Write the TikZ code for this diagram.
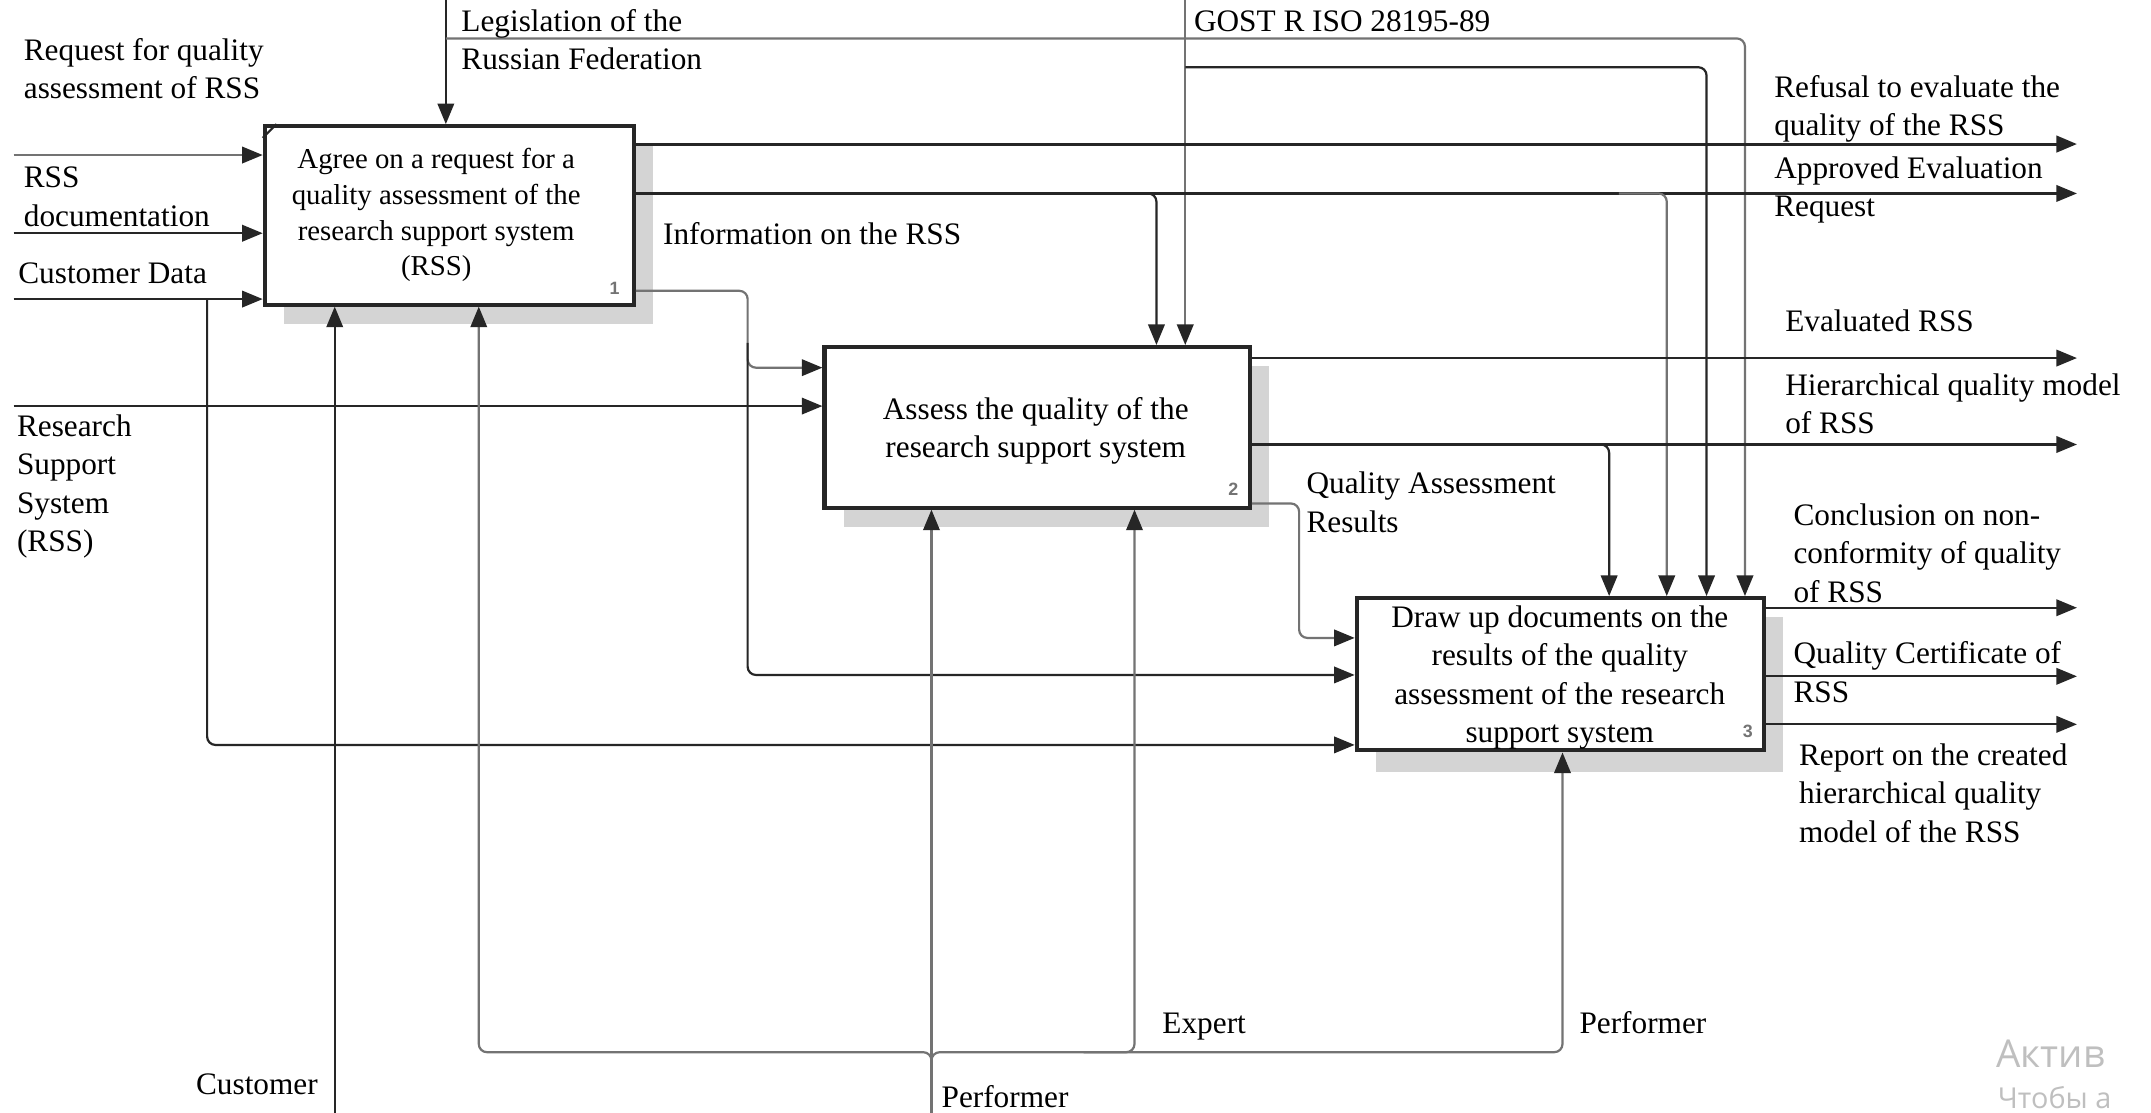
\documentclass[tikz,border=0pt]{standalone}
\usepackage{fontspec}
\setmainfont{Liberation Serif}
\newfontfamily\wmfont{Open Sans}
\newfontfamily\numfont{Liberation Sans}
\usetikzlibrary{arrows.meta,calc}
\begin{document}
\begin{tikzpicture}[x=0.5pt,y=-0.5pt,
  box/.style={draw=black!85, line width=1.5pt, fill=white, inner sep=0pt, rectangle},
  shadowbox/.style={fill=black!17, draw=none},
  txt/.style={font=\fontsize{11.4}{14}\selectfont, inner sep=0pt, align=left, anchor=north west},
  btxt/.style={font=\fontsize{11.4}{14}\selectfont, inner sep=0pt, align=center},
  boxnum/.style={font=\numfont\bfseries\fontsize{6.5}{7}\selectfont, text=black!55, inner sep=0pt},
  dk/.style={draw=black!85, line width=0.8pt, rounded corners=3pt},
  lt/.style={draw=black!55, line width=0.8pt, rounded corners=3pt},
  arr/.style={-{Triangle[length=7.5pt,width=6pt,color=black!85]}},
]
\useasboundingbox (0,0) rectangle (1568,811);
\fill[white] (0,0) rectangle (1568,811);

% shadows
\fill[shadowbox] (207,106) rectangle (476,236);
\fill[shadowbox] (615,267) rectangle (925,384);
\fill[shadowbox] (1003,450) rectangle (1300,563);

% boxes
\node[box, minimum width=134.5pt, minimum height=65pt] (b1) at (327.5,157) {};
\node[box, minimum width=155pt, minimum height=58.5pt] (b2) at (756,311.5) {};
\node[box, minimum width=148.5pt, minimum height=55.5pt] (b3) at (1137.5,491.5) {};
\draw[line width=0.8pt, black!85] ([yshift=-5pt]b1.north west) -- ([xshift=5pt]b1.north west);

\node[btxt, font=\fontsize{10.5}{13}\selectfont] (t1) at (318,157) {Agree on a request for a\\quality assessment of the\\research support system\\(RSS)};
\node[btxt] (t2) at (755,314) {Assess the quality of the\\research support system};
\node[btxt] (t3) at (1137,494) {Draw up documents on the\\results of the quality\\assessment of the research\\support system};

\node[boxnum] (n1) at (448,210) {1};
\node[boxnum] (n2) at (899,357) {2};
\node[boxnum] (n3) at (1274,533) {3};

% free ends and junctions
\coordinate (iReq) at (10,113);
\coordinate (iDoc) at (10,170);
\coordinate (iCust) at (10,218);
\coordinate (jCust) at (151,218);
\coordinate (iRSS) at (10,296);
\coordinate (cLeg) at (325,0);
\coordinate (jLeg) at (325,28);
\coordinate (cGost) at (864,0);
\coordinate (jGost) at (864,49);
\coordinate (oRef) at (1514,105);
\coordinate (oApp) at (1514,141);
\coordinate (jApp1) at (800,141);
\coordinate (jApp2) at (1180,141);
\coordinate (oEval) at (1514,261);
\coordinate (oHier) at (1514,324);
\coordinate (jHier) at (1140,324);
\coordinate (oConc) at (1514,443);
\coordinate (oCert) at (1514,493);
\coordinate (oRep) at (1514,528);
\coordinate (mCust) at (244,811);
\coordinate (mPerf) at (679,811);
\coordinate (jPerf) at (679,767);
\coordinate (jExp) at (790,767);

% inputs
\draw[lt,arr] (iReq) -- (iReq -| b1.west);
\draw[dk,arr] (iDoc) -- (iDoc -| b1.west);
\draw[dk,arr] (iCust) -- (iCust -| b1.west);
\draw[dk,arr] (jCust) -- (151,543) -- (0,543 -| b3.west);
\draw[dk,arr] (iRSS) -- (iRSS -| b2.west);

% controls
\draw[dk,arr] (cLeg) -- (cLeg |- b1.north);
\draw[lt,arr] (jLeg) -- (1272,28) -- (1272,0 |- b3.north);
\draw[lt,arr] (cGost) -- (cGost |- b2.north);
\draw[dk,arr] (jGost) -- (1244,49) -- (1244,0 |- b3.north);

% outputs of box 1
\draw[dk,line width=1.1pt,arr] (b1.east |- oRef) -- (oRef);
\draw[dk,arr] (b1.east |- oApp) -- (oApp);
\draw[dk,arr] (jApp1) -- (843,141) -- (843,0 |- b2.north);
\draw[lt,arr] (jApp2) -- (1215,141) -- (1215,0 |- b3.north);
\draw[lt,arr] (b1.east |- 0,212) -- (545,212) -- (545,268) -- (0,268 -| b2.west);
\draw[dk,arr] (545,250) -- (545,492) -- (0,492 -| b3.west);

% outputs of box 2
\draw[dk,arr] (b2.east |- oEval) -- (oEval);
\draw[dk,arr] (b2.east |- oHier) -- (oHier);
\draw[dk,arr] (jHier) -- (1173,324) -- (1173,0 |- b3.north);
\draw[lt,arr] (b2.east |- 0,367) -- (947,367) -- (947,465) -- (0,465 -| b3.west);

% outputs of box 3
\draw[dk,arr] (b3.east |- oConc) -- (oConc);
\draw[dk,arr] (b3.east |- oCert) -- (oCert);
\draw[dk,arr] (b3.east |- oRep) -- (oRep);

% mechanisms
\draw[dk,arr] (mCust) -- (mCust |- b1.south);
\draw[lt,arr] (mPerf) -- (mPerf |- b2.south);
\draw[lt,arr] (679,790) -- (jPerf) -- (349,767) -- (349,0 |- b1.south);
\draw[lt,arr] (679,790) -- (jPerf) -- (1139,767) -- (1139,0 |- b3.south);
\draw[lt,arr] (jExp) -- (827,767) -- (827,0 |- b2.south);

% labels
\node[txt] (lReq) at (17,24) {\strut Request for quality\\assessment of RSS};
\node[txt] (lDoc) at (17,117) {\strut RSS\\documentation};
\node[txt] (lCust) at (13,187) {\strut Customer Data};
\node[txt] (lRSS) at (12,298) {\strut Research\\Support\\System\\(RSS)};
\node[txt] (lLeg) at (336,3) {\strut Legislation of the\\Russian Federation};
\node[txt] (lGost) at (870,3) {\strut GOST R ISO 28195-89};
\node[txt] (lRef) at (1293,51) {\strut Refusal to evaluate the\\quality of the RSS};
\node[txt] (lApp) at (1293,110) {\strut Approved Evaluation\\Request};
\node[txt] (lInfo) at (483,158) {\strut Information on the RSS};
\node[txt] (lEval) at (1301,222) {\strut Evaluated RSS};
\node[txt] (lHier) at (1301,268) {\strut Hierarchical quality model\\of RSS};
\node[txt] (lQAR) at (952,340) {\strut Quality Assessment\\Results};
\node[txt] (lConc) at (1307,363) {\strut Conclusion on non-\\conformity of quality\\of RSS};
\node[txt] (lCert) at (1307,464) {\strut Quality Certificate of\\RSS};
\node[txt] (lRep) at (1311,538) {\strut Report on the created\\hierarchical quality\\model of the RSS};
\node[txt, anchor=north east] (lCustomer) at (232,778) {\strut Customer};
\node[txt] (lPerf1) at (686,787) {\strut Performer};
\node[txt] (lExp) at (847,733) {\strut Expert};
\node[txt] (lPerf2) at (1151,733) {\strut Performer};

% watermark
\begin{scope}
\clip (1440,740) rectangle (1537,811);
\node[anchor=west, inner sep=0pt, text=black!25, font=\wmfont\fontsize{14}{16}\selectfont] (wm1) at (1455,768) {Актив};
\node[anchor=west, inner sep=0pt, text=black!25, font=\wmfont\fontsize{10.5}{12}\selectfont] (wm2) at (1456,800) {Чтобы а};
\end{scope}
\end{tikzpicture}
\end{document}
